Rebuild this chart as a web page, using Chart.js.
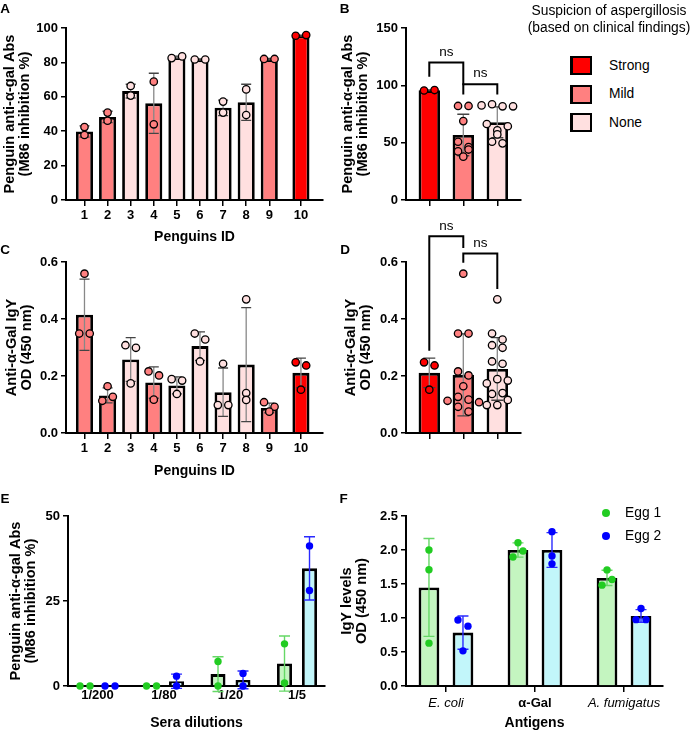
<!DOCTYPE html>
<html><head><meta charset="utf-8">
<script src="https://cdn.jsdelivr.net/npm/chart.js@4.4.1/dist/chart.umd.min.js"></script>
<style>
html,body{margin:0;padding:0;background:#fff;}
body{width:693px;height:732px;position:relative;overflow:hidden;font-family:'Liberation Sans',Arial,sans-serif;}
canvas{position:absolute;}
.t{position:absolute;white-space:nowrap;line-height:1;color:#000;}
</style></head><body>
<script>
// ---------------- DATA ----------------
const penguinIds = ['1','2','3','4','5','6','7','8','9','10'];
const penguinGroup = ['Mild','Mild','None','Mild','None','None','None','None','Mild','Strong'];
// Panel A: anti-α-gal Abs (M86 inhibition %)
const aMean = [39.8, 48.3, 63.3, 56.2, 83.0, 81.7, 53.6, 56.8, 81.9, 95.6];
const aSD   = [3.3, 3.3, 4.0, 17.5, 0.7, 0.4, 4.5, 10.5, 0.4, 0.3];
const aPoints = [[42.4,37.8],[50.8,46.1],[66.3,60.7],[68.8,44.0],[82.5,83.5],[81.7,81.7],[57.2,50.8],[64.3,49.4],[82.0,82.0],[95.5,95.9]];
// Panel B: grouped by suspicion
const suspicion = ['Strong','Mild','None'];
const bMean = [95.7, 56.7, 67.8];
const bSD   = [0.3, 18.1, 13.5];
const bPoints = [[95.5,95.9],[42.4,37.8,50.8,46.1,68.8,44.0,82.0,82.0],[66.3,60.7,82.5,83.5,81.7,81.7,57.2,50.8,64.3,49.4]];
const bBrackets = [{from:0,to:1,y:120,left:107.5,right:100,label:'ns'},{from:1,to:2,y:101,left:92,right:92,label:'ns'}];
// Panel C: anti-α-Gal IgY OD
const cMean = [0.415, 0.132, 0.258, 0.177, 0.167, 0.305, 0.143, 0.240, 0.088, 0.211];
const cSD   = [0.125, 0.026, 0.077, 0.055, 0.030, 0.050, 0.085, 0.200, 0.017, 0.052];
const cPoints = [[0.559,0.349,0.349],[0.164,0.113,0.127],[0.308,0.299,0.174],[0.216,0.202,0.117],[0.189,0.184,0.137],[0.349,0.328,0.251],[0.243,0.098,0.098],[0.469,0.140,0.116],[0.108,0.092,0.075],[0.248,0.237,0.152]];
// Panel D
const dMean = [0.211, 0.204, 0.225];
const dSD   = [0.052, 0.144, 0.110];
const dPoints = [[0.248,0.237,0.152],[0.559,0.349,0.349,0.164,0.113,0.127,0.216,0.202,0.117,0.108,0.092,0.075],[0.308,0.299,0.174,0.189,0.184,0.137,0.349,0.328,0.251,0.243,0.098,0.098,0.469,0.140,0.116]];
const dBrackets = [{from:0,to:1,y:0.69,left:0.289,right:0.649,label:'ns'},{from:1,to:2,y:0.63,left:0.597,right:0.505,label:'ns'}];
// Panel E: sera dilutions
const dilutions = ['1/200','1/80','1/20','1/5'];
const eEgg1Mean = [0, 0, 3.5, 6.6];
const eEgg1SD   = [0, 0, 5.1, 8.1];
const eEgg1Points = [[0,0],[0,0],[7.2,0],[12.4,0.9]];
const eEgg2Mean = [0, 1.4, 1.8, 34.6];
const eEgg2SD   = [0, 2.1, 2.6, 9.3];
const eEgg2Points = [[0,0],[2.9,0],[3.7,0],[41.2,28.1]];
// Panel F: antigens
const antigens = ['E. coli','α-Gal','A. fumigatus'];
const fEgg1Mean = [1.45, 2.0, 1.59];
const fEgg1SD   = [0.72, 0.105, 0.113];
const fEgg1Points = [[2.0,1.71,0.63],[2.107,1.898,1.985],[1.707,1.483,1.566]];
const fEgg2Mean = [0.785, 2.0, 1.03];
const fEgg2SD   = [0.245, 0.255, 0.093];
const fEgg2Points = [[0.97,0.88,0.517],[2.27,1.913,1.796],[1.14,0.976,0.976]];

// ---------------- STYLE ----------------
Chart.defaults.font.family = "'Liberation Sans', Arial, sans-serif";
Chart.defaults.color = '#000';
const groupColor = {Strong:'#ff0000', Mild:'#ff8080', None:'#ffe0e0'};
const GREEN = '#22cc22', BLUE = '#0000ff', GREEN_FILL = '#c4f5c0', BLUE_FILL = '#c2f6fa';

function swarmOffsets(py, thr, step) {
  const idx = py.map((p,i)=>i).sort((a,b)=>py[a]-py[b]);
  const rows = []; let cur = null;
  idx.forEach(i => {
    if (cur && Math.abs(py[i] - py[cur[0]]) < thr) cur.push(i);
    else { cur = [i]; rows.push(cur); }
  });
  const off = new Array(py.length).fill(0);
  rows.forEach(r => { r.sort((a,b)=>a-b); r.forEach((i,k)=>{ off[i] = (k-(r.length-1)/2)*step; }); });
  return off;
}

function makeOverlay(brackets) {
  return {
    id: 'overlay',
    afterDatasetsDraw(chart) {
      const ctx = chart.ctx, ys = chart.scales.y, xs = chart.scales.x;
      ctx.save();
      chart.data.datasets.forEach((ds, di) => {
        const meta = chart.getDatasetMeta(di), st = ds.overlay;
        meta.data.forEach((bar, i) => {
          const m = ds.data[i].y, sd = ds.sd[i];
          if (sd > 0) {
            const yt = ys.getPixelForValue(m + sd), yb = ys.getPixelForValue(m - sd);
            ctx.lineWidth = st.errWidth; ctx.strokeStyle = st.errColor;
            ctx.beginPath(); ctx.moveTo(bar.x, yt); ctx.lineTo(bar.x, yb); ctx.stroke();
            ctx.strokeStyle = st.capColor;
            ctx.beginPath();
            ctx.moveTo(bar.x - st.cap/2, yt); ctx.lineTo(bar.x + st.cap/2, yt);
            ctx.moveTo(bar.x - st.cap/2, yb); ctx.lineTo(bar.x + st.cap/2, yb);
            ctx.stroke();
          }
        });
      });
      chart.data.datasets.forEach((ds, di) => {
        const meta = chart.getDatasetMeta(di), st = ds.overlay;
        meta.data.forEach((bar, i) => {
          const py = ds.pts[i].map(v => ys.getPixelForValue(v));
          const off = swarmOffsets(py, st.thr, st.step);
          const fill = Array.isArray(st.pointColor) ? st.pointColor[i] : st.pointColor;
          py.forEach((p, k) => {
            ctx.beginPath(); ctx.arc(bar.x + off[k], p, st.r, 0, Math.PI*2);
            ctx.fillStyle = fill; ctx.fill();
            if (st.pointBorder) { ctx.lineWidth = st.pointBorderWidth; ctx.strokeStyle = st.pointBorder; ctx.stroke(); }
          });
        });
      });
      brackets.forEach(b => {
        const x1 = xs.getPixelForValue(b.from), x2 = xs.getPixelForValue(b.to);
        const yh = ys.getPixelForValue(b.y), yl = ys.getPixelForValue(b.left), yr = ys.getPixelForValue(b.right);
        ctx.strokeStyle = '#000'; ctx.lineWidth = 2; ctx.lineJoin = 'miter';
        ctx.beginPath(); ctx.moveTo(x1, yl); ctx.lineTo(x1, yh); ctx.lineTo(x2, yh); ctx.lineTo(x2, yr); ctx.stroke();
        ctx.font = "13.5px 'Liberation Sans', Arial, sans-serif";
        ctx.textAlign = 'center'; ctx.textBaseline = 'middle'; ctx.fillStyle = '#000';
        ctx.fillText(b.label, (x1+x2)/2, yh - 10.5);
      });
      ctx.restore();
    }
  };
}

function makeChart(s) {
  const cv = document.createElement('canvas');
  cv.width = s.w; cv.height = s.h;
  cv.style.left = s.x + 'px'; cv.style.top = s.y + 'px';
  cv.style.width = s.w + 'px'; cv.style.height = s.h + 'px';
  document.body.appendChild(cv);
  new Chart(cv, {
    type: 'bar',
    data: { datasets: s.datasets },
    options: {
      responsive: false, animation: false, devicePixelRatio: 1,
      events: [],
      layout: { padding: { left: 0, top: s.padTop, right: s.padRight, bottom: 0 } },
      plugins: { legend: { display: false }, tooltip: { enabled: false } },
      scales: {
        x: {
          type: 'linear', offset: false, min: s.xMin, max: s.xMax,
          afterBuildTicks: sc => { sc.ticks = s.xTicks.map(v => ({ value: v })); },
          afterFit: sc => { sc.height = s.xH; },
          grid: { display: s.xTickMarks, drawOnChartArea: false, drawTicks: s.xTickMarks, tickLength: 6, color: '#000', lineWidth: 1.5, offset: false },
          border: { display: true, color: '#000', width: 2 },
          ticks: {
            autoSkip: false, maxRotation: 0, minRotation: 0, padding: s.xPad, color: '#000',
            font: s.xFont || { size: 13, weight: 'bold' },
            callback: (v, i) => s.xLabels ? s.xLabels[i] : ''
          },
          title: { display: !!s.xTitle, text: s.xTitle, color: '#000', font: { size: 14, weight: 'bold', lineHeight: 1.08 }, padding: { top: 0, bottom: s.xTitlePad } }
        },
        y: {
          min: 0, max: s.yMax,
          afterFit: sc => { sc.width = s.yW; },
          grid: { drawOnChartArea: false, drawTicks: true, tickLength: 5, color: '#000', lineWidth: 1.5 },
          border: { display: true, color: '#000', width: 2 },
          ticks: { stepSize: s.yStep, padding: 3, color: '#000', font: { size: 13, weight: 'bold' }, callback: s.yFmt },
          title: { display: true, text: s.yTitle, color: '#000', font: { size: 14.6, weight: 'bold', lineHeight: 1.03 }, padding: { top: s.yTitlePad, bottom: 0 } }
        }
      }
    },
    plugins: [makeOverlay(s.brackets || [])]
  });
}

const redOverlay = (colors, cap) => ({ errColor: '#888', capColor: '#444', errWidth: 1.3, cap: cap, r: 3.7, pointBorder: '#000', pointBorderWidth: 1.3, pointColor: colors, thr: 6.5, step: 10.5 });
const penguinX = penguinIds.map((_, i) => i < 9 ? i + 1 : i + 1.37);
const penguinColors = penguinGroup.map(g => groupColor[g]);
const suspColors = suspicion.map(g => groupColor[g]);
const fmt1 = v => Number(v).toFixed(1);
const fmt0 = v => v;

// Panel A
makeChart({
  x: 0, y: 0, w: 340, h: 245, padTop: 28, padRight: 17, xH: 45, yW: 66,
  xMin: 0.2, xMax: 11.325, xTicks: penguinX, xLabels: penguinIds, xTickMarks: true, xPad: 2,
  xTitle: 'Penguins ID', xTitlePad: 0.4,
  yMax: 100, yStep: 20, yFmt: fmt0, yTitle: ['Penguin anti-α-gal Abs', '(M86 inhibition %)'], yTitlePad: 2.5,
  datasets: [{
    data: aMean.map((v, i) => ({ x: penguinX[i], y: v })), backgroundColor: penguinColors,
    borderColor: '#000', borderWidth: 2.8, barPercentage: 0.74, categoryPercentage: 1,
    sd: aSD, pts: aPoints, overlay: redOverlay(penguinColors, 10)
  }]
});
// Panel B
makeChart({
  x: 340, y: 0, w: 190, h: 215, padTop: 28, padRight: 9, xH: 15, yW: 66,
  xMin: -0.685, xMax: 2.697, xTicks: [0, 1, 2], xLabels: null, xTickMarks: true, xPad: 2,
  xTitle: null, xTitlePad: 0,
  yMax: 150, yStep: 50, yFmt: fmt0, yTitle: ['Penguin anti-α-gal Abs', '(M86 inhibition %)'], yTitlePad: 0.5,
  brackets: bBrackets,
  datasets: [{
    data: bMean.map((v, i) => ({ x: i, y: v })), backgroundColor: suspColors,
    borderColor: '#000', borderWidth: 2.8, barPercentage: 0.63, categoryPercentage: 1,
    sd: bSD, pts: bPoints, overlay: redOverlay(suspColors, 12)
  }]
});
// Panel C
makeChart({
  x: 0, y: 250, w: 340, h: 229, padTop: 12, padRight: 17, xH: 46, yW: 66,
  xMin: 0.2, xMax: 11.325, xTicks: penguinX, xLabels: penguinIds, xTickMarks: true, xPad: 1.5,
  xTitle: 'Penguins ID', xTitlePad: 0.7,
  yMax: 0.6, yStep: 0.2, yFmt: fmt1, yTitle: ['Anti-α-Gal IgY', 'OD (450 nm)'], yTitlePad: 4.5,
  datasets: [{
    data: cMean.map((v, i) => ({ x: penguinX[i], y: v })), backgroundColor: penguinColors,
    borderColor: '#000', borderWidth: 2.8, barPercentage: 0.74, categoryPercentage: 1,
    sd: cSD, pts: cPoints, overlay: redOverlay(penguinColors, 10)
  }]
});
// Panel D
makeChart({
  x: 340, y: 205, w: 190, h: 243, padTop: 57, padRight: 9, xH: 15, yW: 66,
  xMin: -0.685, xMax: 2.697, xTicks: [0, 1, 2], xLabels: null, xTickMarks: true, xPad: 2,
  xTitle: null, xTitlePad: 0,
  yMax: 0.6, yStep: 0.2, yFmt: fmt1, yTitle: ['Anti-α-Gal IgY', 'OD (450 nm)'], yTitlePad: 3.5,
  brackets: dBrackets,
  datasets: [{
    data: dMean.map((v, i) => ({ x: i, y: v })), backgroundColor: suspColors,
    borderColor: '#000', borderWidth: 2.8, barPercentage: 0.63, categoryPercentage: 1,
    sd: dSD, pts: dPoints, overlay: redOverlay(suspColors, 12)
  }]
});
// Panel E
const eggOverlay = (color) => ({ errColor: color === GREEN ? '#66d866' : '#2a2aff', capColor: color === GREEN ? '#66d866' : '#2a2aff', errWidth: 1.4, cap: 11, r: 3.7, pointBorder: null, pointColor: color, thr: 6.5, step: 10 });
const zeroBorder = c => (c.raw && c.raw.y === 0 ? 0 : 2.8);
makeChart({
  x: 0, y: 490, w: 340, h: 242, padTop: 26, padRight: 15, xH: 46, yW: 68,
  xMin: -0.444, xMax: 3.421, xTicks: [0, 1, 2, 3], xLabels: dilutions, xTickMarks: false, xPad: 1.2,
  xTitle: 'Sera dilutions', xTitlePad: 1.7,
  yMax: 50, yStep: 25, yFmt: fmt0, yTitle: ['Penguin anti-α-gal Abs', '(M86 inhibition %)'], yTitlePad: 8.5,
  datasets: [
    { label: 'Egg 1', data: eEgg1Mean.map((v, i) => ({ x: i, y: v })), backgroundColor: GREEN_FILL, borderColor: '#000', borderWidth: zeroBorder,
      barPercentage: 0.6, categoryPercentage: 0.752, sd: eEgg1SD, pts: eEgg1Points, overlay: eggOverlay(GREEN) },
    { label: 'Egg 2', data: eEgg2Mean.map((v, i) => ({ x: i, y: v })), backgroundColor: BLUE_FILL, borderColor: '#000', borderWidth: zeroBorder,
      barPercentage: 0.6, categoryPercentage: 0.752, sd: eEgg2SD, pts: eEgg2Points, overlay: eggOverlay(BLUE) }
  ]
});
// Panel F
const fFonts = [{ size: 13, style: 'italic', weight: 'normal' }, { size: 13, weight: 'bold' }, { size: 13, style: 'italic', weight: 'normal' }];
makeChart({
  x: 339, y: 490, w: 340, h: 242, padTop: 26, padRight: 16, xH: 46, yW: 67,
  xMin: -0.449, xMax: 2.438, xTicks: [0, 1, 2], xLabels: antigens, xTickMarks: true, xPad: 3.5,
  xFont: c => fFonts[c.index] || fFonts[0],
  xTitle: 'Antigens', xTitlePad: 1.1,
  yMax: 2.5, yStep: 0.5, yFmt: fmt1, yTitle: ['IgY levels', 'OD (450 nm)'], yTitlePad: 0.5,
  datasets: [
    { label: 'Egg 1', data: fEgg1Mean.map((v, i) => ({ x: i, y: v })), backgroundColor: GREEN_FILL, borderColor: '#000', borderWidth: 2.8,
      barPercentage: 0.61, categoryPercentage: 0.764, sd: fEgg1SD, pts: fEgg1Points, overlay: eggOverlay(GREEN) },
    { label: 'Egg 2', data: fEgg2Mean.map((v, i) => ({ x: i, y: v })), backgroundColor: BLUE_FILL, borderColor: '#000', borderWidth: 2.8,
      barPercentage: 0.61, categoryPercentage: 0.764, sd: fEgg2SD, pts: fEgg2Points, overlay: eggOverlay(BLUE) }
  ]
});

// ---------------- HTML TEXT ----------------
function txt(str, x, y, css, align) {
  const d = document.createElement('div');
  d.className = 't'; d.textContent = str;
  d.style.left = x + 'px'; d.style.top = y + 'px';
  d.style.transform = align === 'left' ? 'translate(0,-50%)' : 'translate(-50%,-50%)';
  Object.assign(d.style, css || {});
  document.body.appendChild(d);
  return d;
}
function box(x, y, w, h, css) {
  const d = document.createElement('div');
  Object.assign(d.style, { position: 'absolute', left: x + 'px', top: y + 'px', width: w + 'px', height: h + 'px', boxSizing: 'border-box' }, css);
  document.body.appendChild(d);
}
const letterCss = { fontWeight: 'bold', fontSize: '13.5px' };
[['A', 5, 9], ['B', 344.5, 9], ['C', 5, 249.5], ['D', 345, 249.5], ['E', 5, 499], ['F', 343.5, 498.5]].forEach(l => txt(l[0], l[1], l[2], letterCss));

txt('Suspicion of aspergillosis', 609, 11, { fontSize: '13.8px' });
txt('(based on clinical findings)', 609, 27.5, { fontSize: '13.8px' });
const legendY = [65.5, 94, 122.5];
suspicion.forEach((g, i) => {
  box(570, legendY[i] - 9.5, 22, 19, { background: groupColor[g], border: '2px solid #000', borderLeftWidth: '3px' });
  txt(g, 609, legendY[i], { fontSize: '13.8px' }, 'left');
});
[['Egg 1', GREEN, 513.3], ['Egg 2', BLUE, 536]].forEach(e => {
  box(601.7, e[2] - 4, 8, 8, { background: e[1], borderRadius: '50%' });
  txt(e[0], 625, e[2], { fontSize: '13.8px' }, 'left');
});
</script>
</body></html>
